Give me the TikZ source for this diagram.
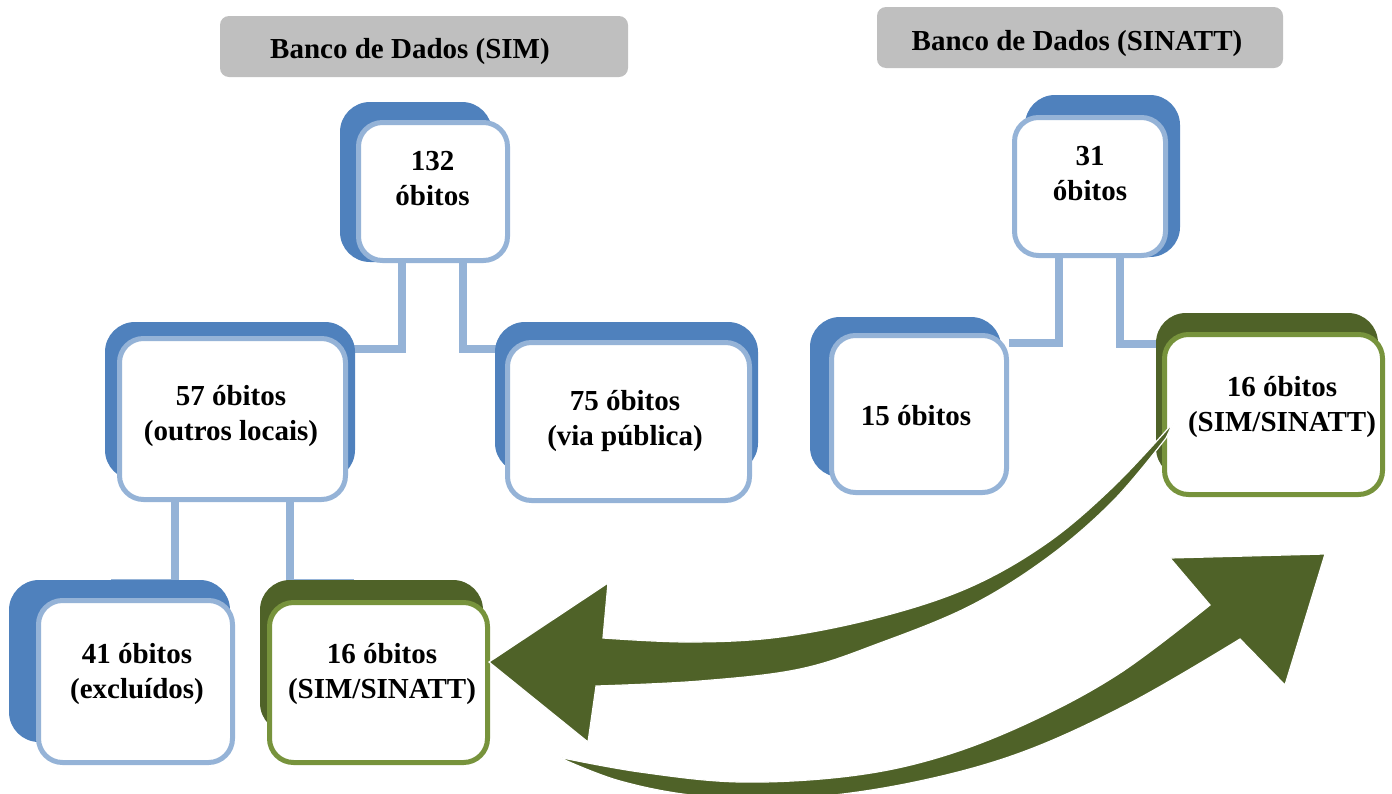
\documentclass[tikz,border=0pt]{standalone}
\usepackage{fontspec}
\setmainfont{Liberation Serif}
\definecolor{shblue}{HTML}{4F81BD}
\definecolor{ltblue}{HTML}{95B3D7}
\definecolor{shgreen}{HTML}{4F6228}
\definecolor{ltgreen}{HTML}{77933C}
\definecolor{hdrgray}{HTML}{BFBFBF}
\tikzset{
  hdr/.style={fill=hdrgray, draw=none, rounded corners=9pt, inner sep=0pt},
  bluebox/.style={fill=white, draw=ltblue, line width=5pt, rounded corners=24pt, inner sep=0pt},
  greenbox/.style={fill=white, draw=ltgreen, line width=5pt, rounded corners=24pt, inner sep=0pt},
  shadeblue/.style={fill=shblue, rounded corners=30pt},
  shadegreen/.style={fill=shgreen, rounded corners=30pt},
  helper/.style={inner sep=0pt},
  conn/.style={draw=ltblue, line width=8pt},
  lbl/.style={font=\fontsize{29}{35}\selectfont\bfseries, align=center, inner sep=0pt},
  bigarrow/.style={fill=shgreen, draw=white, line width=1.2pt, line join=miter}
}
\begin{document}
\begin{tikzpicture}[x=1pt,y=-1pt]
\useasboundingbox (0,0) rectangle (1392,793);
\clip (0,0) rectangle (1392,793);
% headers
\node[hdr, minimum width=408, minimum height=61] (hsim) at (424,46.5) {};
\node[lbl, anchor=base] (thsim) at (410,58) {Banco de Dados (SIM)};
\node[hdr, minimum width=406, minimum height=61] (hsin) at (1080,37.5) {};
\node[lbl, anchor=base] (thsin) at (1077,50) {Banco de Dados (SINATT)};
% box positions
\coordinate (p132) at (433,191.5);
\coordinate (p57) at (232.5,419);
\coordinate (p75) at (628.5,421.5);
\coordinate (p41) at (135.5,681.5);
\coordinate (p16l) at (378.5,682.5);
\coordinate (p31) at (1090,186.5);
\coordinate (p15) at (919,414);
\coordinate (p16r) at (1273.5,414.5);
% invisible helper nodes (outer extent of the boxes) for the connectors
\path (p132) node[helper, minimum width=154, minimum height=143] (n132) {};
\path (p57) node[helper, minimum width=231, minimum height=166] (n57) {};
\path (p75) node[helper, minimum width=247, minimum height=163] (n75) {};
\path (p41) node[helper, minimum width=199, minimum height=167] (n41) {};
\path (p16l) node[helper, minimum width=223, minimum height=165] (n16l) {};
\path (p31) node[helper, minimum width=156, minimum height=143] (n31) {};
\path (p15) node[helper, minimum width=180, minimum height=162] (n15) {};
\path (p16r) node[helper, minimum width=223, minimum height=165] (n16r) {};
% connectors
\draw[conn] ([xshift=-31pt]n132.south) |- ([yshift=-13pt]n57.north east);
\draw[conn] ([xshift=30pt]n132.south) |- ([yshift=-9pt]n75.north west);
\draw[conn] ([xshift=-58pt]n57.south) |- ([xshift=-25pt,yshift=15pt]n41.north);
\draw[conn] ([xshift=57pt]n57.south) |- ([xshift=-25pt,yshift=17pt]n16l.north);
\draw[conn] ([xshift=-31pt]n31.south) |- ([yshift=-10pt]n15.north east);
\draw[conn] ([xshift=30pt]n31.south) |- ([yshift=-12pt]n16r.north west);
% back (shadow) plates
\fill[shadeblue] (340,102) rectangle (492,262);
\fill[shadeblue] (105,322) rectangle (355,480);
\fill[shadeblue] (495,322) rectangle (758,473);
\fill[shadeblue] (9,580) rectangle (230,742);
\fill[shadegreen] (260,580) rectangle (483,733);
\fill[shadeblue] (1025,95) rectangle (1180,257);
\fill[shadeblue] (810,317) rectangle (1001,477);
\fill[shadegreen] (1156,313) rectangle (1378,478);
% front boxes
\node[bluebox, minimum width=149, minimum height=138] (b132) at (p132) {};
\node[bluebox, minimum width=226, minimum height=161] (b57) at (p57) {};
\node[bluebox, minimum width=242, minimum height=158] (b75) at (p75) {};
\node[bluebox, minimum width=194, minimum height=162] (b41) at (p41) {};
\node[greenbox, minimum width=218, minimum height=160] (b16l) at (p16l) {};
\node[bluebox, minimum width=151, minimum height=138] (b31) at (p31) {};
\node[bluebox, minimum width=175, minimum height=157] (b15) at (p15) {};
\node[greenbox, minimum width=218, minimum height=160] (b16r) at (p16r) {};
% texts
\node[lbl, anchor=base] (t132) at (432.5,205) {132\\óbitos};
\node[lbl, anchor=base] (t57) at (231,440) {57 óbitos\\(outros locais)};
\node[lbl, anchor=base] (t75) at (625,445) {75 óbitos\\(via pública)};
\node[lbl, anchor=base] (t41) at (137,698) {41 óbitos\\(excluídos)};
\node[lbl, anchor=base] (t16l) at (382,698) {16 óbitos\\(SIM/SINATT)};
\node[lbl, anchor=base] (t31) at (1090,200) {31\\óbitos};
\node[lbl, anchor=base] (t15) at (916,425) {15 óbitos};
\node[lbl, anchor=base] (t16r) at (1282,431) {16 óbitos\\(SIM/SINATT)};
% curved arrows
\draw[bigarrow] plot[smooth, tension=0.6] coordinates {(1173,423) (1113,487) (1047,543) (970,587) (880,617) (780,637) (690,642) (603,638)}
  -- (608,583) -- (489,662) -- (588,742)
  -- plot[smooth, tension=0.6] coordinates {(596,686) (700,681) (800,669) (880,643) (970,606) (1047,558) (1113,501) (1166,438)} -- cycle;
\draw[bigarrow] plot[smooth, tension=0.6] coordinates {(558,757) (640,772) (740,782) (850,776) (940,757) (1030,722) (1120,673) (1210,605)}
  -- (1170,558) -- (1325,554) -- (1285,685)
  -- plot[smooth, tension=0.6] coordinates {(1240,639) (1130,703) (1020,753) (910,783) (800,798) (700,796) (620,781) (558,757)} -- cycle;
\end{tikzpicture}
\end{document}
